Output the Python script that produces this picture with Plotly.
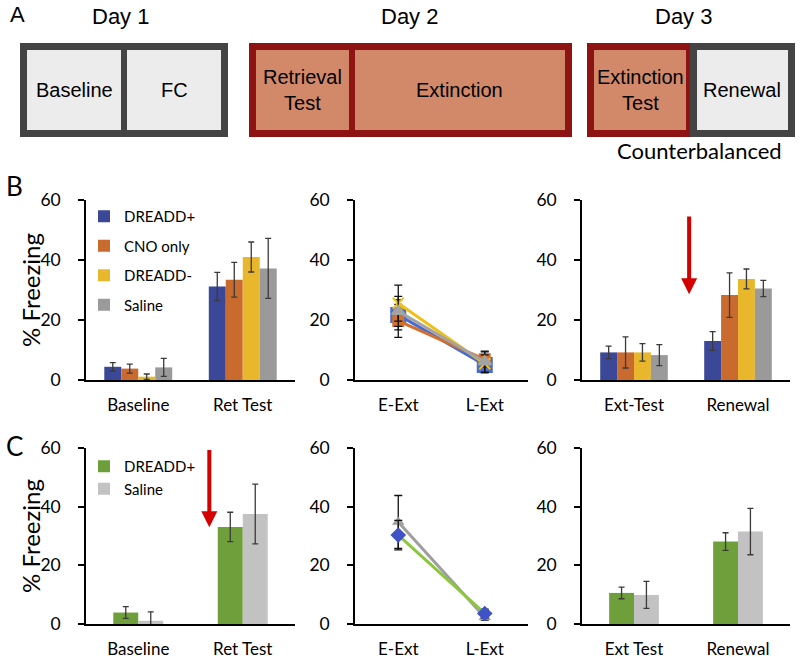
import plotly.graph_objects as go

# ---------------- data ----------------
groups_b = ["DREADD+", "CNO only", "DREADD-", "Saline"]
groups_c = ["DREADD+", "Saline"]
test_cats = ["Baseline", "Ret Test"]
ext_cats = ["E-Ext", "L-Ext"]
day3_cats_b = ["Ext-Test", "Renewal"]
day3_cats_c = ["Ext Test", "Renewal"]
y_title = "% Freezing"

# Row B, Day 1/2 tests (% freezing, mean and SEM)
b_test_dpos = [4.4, 31.2]
b_test_dpos_err = [1.4, 4.7]
b_test_cno = [3.8, 33.4]
b_test_cno_err = [1.5, 5.8]
b_test_dneg = [1.1, 41.0]
b_test_dneg_err = [0.9, 5.0]
b_test_sal = [4.2, 37.2]
b_test_sal_err = [3.0, 10.0]

# Row B, extinction
b_ext_dpos = [21.7, 5.0]
b_ext_dpos_err = [5.0, 2.0]
b_ext_cno = [19.7, 6.9]
b_ext_cno_err = [5.5, 2.5]
b_ext_dneg = [25.6, 5.4]
b_ext_dneg_err = [6.0, 3.0]
b_ext_sal = [22.9, 6.1]
b_ext_sal_err = [5.0, 3.5]

# Row B, Day 3
b_d3_dpos = [9.2, 13.0]
b_d3_dpos_err = [2.1, 3.1]
b_d3_cno = [9.2, 28.3]
b_d3_cno_err = [5.2, 7.4]
b_d3_dneg = [9.2, 33.7]
b_d3_dneg_err = [2.9, 3.3]
b_d3_sal = [8.3, 30.5]
b_d3_sal_err = [3.5, 2.7]

# Row C
c_test_dpos = [3.9, 33.1]
c_test_dpos_err = [2.0, 5.0]
c_test_sal = [1.1, 37.5]
c_test_sal_err = [3.0, 10.2]
c_ext_dpos = [30.3, 3.6]
c_ext_dpos_err = [5.0, 1.5]
c_ext_sal = [34.8, 2.3]
c_ext_sal_err = [9.0, 1.0]
c_d3_dpos = [10.6, 28.1]
c_d3_dpos_err = [2.0, 3.0]
c_d3_sal = [9.9, 31.5]
c_d3_sal_err = [4.6, 7.9]

y_ticks = [0, 20, 40, 60]

# ---------------- styles ----------------
FONT = "Lato, Carlito, Calibri, 'Open Sans', sans-serif"
NARROW = "'Liberation Sans Narrow', 'Arial Narrow', 'Liberation Sans', Arial, sans-serif"
W, H = 800, 660

bar_cols_b = ["#3b4897", "#c96b2e", "#e8b72c", "#9a9a9a"]
line_cols_b = ["#4a6bd0", "#d2702c", "#f0c018", "#a3a3a3"]
bar_cols_c = ["#6f9f3a", "#c2c2c2"]
ERR = dict(type="data", color="#3a3a3a", thickness=1.3, width=3)
ERR_L = dict(type="data", color="#111111", thickness=1.3, width=4)

fig = go.Figure()

def px(x, y):
    return x / W, 1 - y / H

# ---------------- bar helper ----------------
def add_bars(xa, ya, cats, series, errs, names, colors, width, legend=None):
    n = len(series)
    for i, (vals, err, nm, col) in enumerate(zip(series, errs, names, colors)):
        fig.add_trace(go.Bar(
            x=cats, y=vals, name=nm, xaxis=xa, yaxis=ya,
            marker=dict(color=col, line=dict(width=0)),
            width=width, offset=-n * width / 2 + i * width,
            error_y=dict(array=err, **ERR),
            showlegend=legend is not None, legend=legend or "legend",
            legendgroup=(legend or "") + nm,
        ))

bw_b = 0.1625
bw_c = 0.239

add_bars("x", "y", test_cats,
         [b_test_dpos, b_test_cno, b_test_dneg, b_test_sal],
         [b_test_dpos_err, b_test_cno_err, b_test_dneg_err, b_test_sal_err],
         groups_b, bar_cols_b, bw_b, legend="legend")
add_bars("x3", "y3", day3_cats_b,
         [b_d3_dpos, b_d3_cno, b_d3_dneg, b_d3_sal],
         [b_d3_dpos_err, b_d3_cno_err, b_d3_dneg_err, b_d3_sal_err],
         groups_b, bar_cols_b, bw_b)
add_bars("x4", "y4", test_cats,
         [c_test_dpos, c_test_sal], [c_test_dpos_err, c_test_sal_err],
         groups_c, bar_cols_c, bw_c, legend="legend2")
add_bars("x6", "y6", day3_cats_c,
         [c_d3_dpos, c_d3_sal], [c_d3_dpos_err, c_d3_sal_err],
         groups_c, bar_cols_c, bw_c)

# ---------------- line panels ----------------
line_specs_b = [
    (b_ext_dpos, b_ext_dpos_err, line_cols_b[0], "square", 14),
    (b_ext_cno, b_ext_cno_err, line_cols_b[1], "square", 10),
    (b_ext_dneg, b_ext_dneg_err, line_cols_b[2], "x-thin-open", 11),
    (b_ext_sal, b_ext_sal_err, line_cols_b[3], "triangle-up", 11),
]
for (vals, err, col, sym, sz), nm in zip(line_specs_b, groups_b):
    fig.add_trace(go.Scatter(
        x=ext_cats, y=vals, name=nm, xaxis="x2", yaxis="y2",
        mode="lines+markers", line=dict(color=col, width=3),
        marker=dict(symbol=sym, size=sz, color=col, line=dict(color=col, width=2)),
        error_y=dict(array=err, **ERR_L), showlegend=False,
    ))

fig.add_trace(go.Scatter(
    x=ext_cats, y=c_ext_sal, name="Saline", xaxis="x5", yaxis="y5",
    mode="lines+markers", line=dict(color="#9e9e9e", width=3),
    marker=dict(symbol="triangle-up", size=11, color="#9e9e9e"),
    error_y=dict(array=c_ext_sal_err, **ERR_L), showlegend=False,
))
fig.add_trace(go.Scatter(
    x=ext_cats, y=c_ext_dpos, name="DREADD+", xaxis="x5", yaxis="y5",
    mode="lines+markers", line=dict(color="#8cc63e", width=3),
    marker=dict(symbol="diamond", size=12, color="#3f52c6"),
    error_y=dict(array=c_ext_dpos_err, **ERR_L), showlegend=False,
))

# ---------------- axes ----------------
col_x = [(86, 295), (355, 528), (582, 790)]
row_y = [(380, 200), (624, 448)]

def xaxis_cfg(c):
    x0, x1 = col_x[c]
    return dict(domain=[x0 / W, x1 / W], range=[-0.5, 1.5], type="category",
                showline=True, linecolor="black", linewidth=1.5,
                ticks="", showgrid=False, zeroline=False, fixedrange=True,
                automargin=False,
                tickfont=dict(family=FONT, size=17, color="black"),
                ticklabelstandoff=9)

def yaxis_cfg(r):
    y0, y1 = row_y[r]
    return dict(domain=[1 - y0 / H, 1 - y1 / H], range=[0, 60],
                tickvals=y_ticks, showline=True, linecolor="black", linewidth=1.5,
                ticks="outside", ticklen=6, tickwidth=1.5, tickcolor="black",
                showgrid=False, zeroline=False, fixedrange=True, automargin=False,
                tickfont=dict(family=FONT, size=17.5, color="black"),
                ticklabelstandoff=14)

k = 0
for r in range(2):
    for c in range(3):
        k += 1
        sx = "" if k == 1 else str(k)
        fig.layout["xaxis" + sx] = xaxis_cfg(c)
        fig.layout["xaxis" + sx]["anchor"] = "y" + sx
        fig.layout["yaxis" + sx] = yaxis_cfg(r)
        fig.layout["yaxis" + sx]["anchor"] = "x" + sx

# ---------------- panel A schematic ----------------
shapes = []
def rect(x0, y0, x1, y1, fill):
    a, b = px(x0, y0)
    c, d = px(x1, y1)
    shapes.append(dict(type="rect", xref="paper", yref="paper",
                       x0=a, y0=d, x1=c, y1=b, fillcolor=fill,
                       line=dict(width=0), layer="above"))

DG, LG, DR, SA = "#444444", "#ececec", "#8e1414", "#d1896a"
# Day 1
rect(20, 43, 228, 137, DG)
rect(27, 50, 121, 130, LG)
rect(127, 50, 221, 130, LG)
# Day 2
rect(249, 43, 572, 137, DR)
rect(256, 50, 349, 130, SA)
rect(355, 50, 565, 130, SA)
# Day 3
rect(587, 43, 692, 137, DR)
rect(690, 43, 795, 137, DG)
rect(594, 50, 686, 130, SA)
rect(697, 50, 788, 130, LG)

annos = []
def txt(x, y, s, size, family=NARROW, xanchor="center", angle=0):
    a, b = px(x, y)
    annos.append(dict(x=a, y=b, xref="paper", yref="paper", text=s,
                      showarrow=False, xanchor=xanchor, yanchor="middle",
                      textangle=angle,
                      font=dict(family=family, size=size, color="black")))

txt(8, 14, "A", 22, xanchor="left")
txt(120, 16, "Day 1", 22)
txt(410, 16, "Day 2", 22)
txt(683, 16, "Day 3", 22)
txt(74, 90, "Baseline", 20)
txt(174, 90, "FC", 20)
txt(302, 90, "Retrieval<br>Test", 20)
txt(460, 90, "Extinction", 20)
txt(640, 90, "Extinction<br>Test", 20)
txt(742, 90, "Renewal", 20)
txt(699, 151, "Counterbalanced", 22, family=FONT)
txt(4, 186, "B", 26, family=FONT, xanchor="left")
txt(4, 446, "C", 26, family=FONT, xanchor="left")
txt(30, 290, y_title, 24, family=FONT, angle=-90)
txt(30, 536, y_title, 24, family=FONT, angle=-90)

# red arrows
ARROW = "#d40000"
annos.append(dict(xref="x3", yref="y3", axref="x3", ayref="y3",
                  x=0.53, y=28.6, ax=0.53, ay=55.0, text="", showarrow=True,
                  arrowhead=2, arrowsize=0.8, arrowwidth=4, arrowcolor=ARROW))
annos.append(dict(xref="x4", yref="y4", axref="x4", ayref="y4",
                  x=0.68, y=33.0, ax=0.68, ay=59.8, text="", showarrow=True,
                  arrowhead=2, arrowsize=0.8, arrowwidth=4, arrowcolor=ARROW))

lx, ly = px(84, 200)
lx2, ly2 = px(84, 450)
fig.update_layout(
    width=W, height=H, autosize=False,
    margin=dict(l=0, r=0, t=0, b=0, pad=0, autoexpand=False),
    paper_bgcolor="white", plot_bgcolor="white",
    barmode="overlay",
    shapes=shapes, annotations=annos,
    font=dict(family=FONT, color="black"),
    legend=dict(x=lx, y=ly, xanchor="left", yanchor="top",
                bgcolor="rgba(0,0,0,0)", font=dict(family=FONT, size=15),
                itemwidth=30, tracegroupgap=7, traceorder="grouped"),
    legend2=dict(x=lx2, y=ly2, xanchor="left", yanchor="top",
                 bgcolor="rgba(0,0,0,0)", font=dict(family=FONT, size=15),
                 itemwidth=30, tracegroupgap=0, traceorder="grouped"),
)

fig.write_html("out.html", config={"displayModeBar": False},
               post_script="document.body.style.margin='0';document.body.style.overflow='hidden';")
